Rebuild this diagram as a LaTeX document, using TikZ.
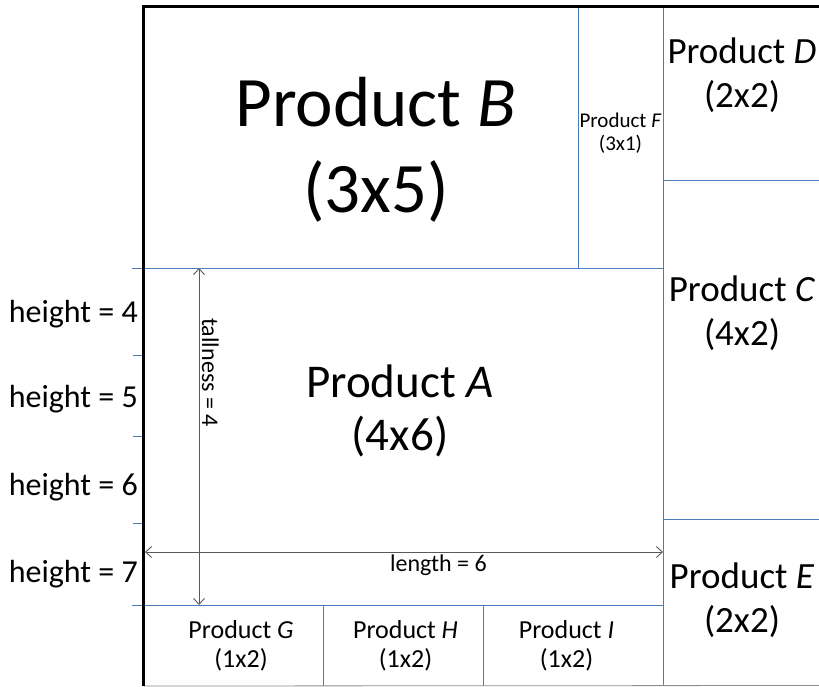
\documentclass[tikz,border=0pt]{standalone}
\usepackage{fontspec}
\setmainfont{Carlito}
\usetikzlibrary{arrows.meta}

\definecolor{cellblue}{HTML}{4A7EBB}

\begin{document}
\begin{tikzpicture}[
  x=1pt, y=-1pt,
  >={Straight Barb[length=6pt,width=11pt]},
  frame/.style={line width=3.2pt, draw=black},
  cell/.style={line width=1pt, draw=cellblue},
  tick/.style={line width=1pt, draw=cellblue},
  dim/.style={<->, line width=0.9pt, draw=black!65},
  huge/.style={font=\fontsize{71}{86}\selectfont, align=center},
  large/.style={font=\fontsize{47}{53}\selectfont, align=center},
  side/.style={font=\fontsize{37}{44}\selectfont, align=center},
  small/.style={font=\fontsize{26}{29}\selectfont, align=center},
  tiny/.style={font=\fontsize{21}{23}\selectfont, align=center},
  level/.style={font=\fontsize{32}{38}\selectfont, anchor=base east, inner sep=0pt},
  note/.style={font=\fontsize{24}{28}\selectfont, anchor=base}
]
\useasboundingbox (0,0) rectangle (819,686);

% Corners of the shelf and of the cells on it.
\coordinate (tl) at (143.5,6.5);
\coordinate (tr) at (819,6.5);
\coordinate (bl) at (143.5,686);
\coordinate (br) at (819,685.5);
\coordinate (ab) at (132,268);
\coordinate (abr) at (663,268);
\coordinate (ag) at (132,605);
\coordinate (agr) at (663,605);

% Cell borders.
\draw[cell] (ab) -- (abr);
\draw[cell] (ag) -- (agr);
\draw[cell] (578,6.5) -- (578,268);
\draw[cell] (663,6.5) -- (663,686);
\draw[cell] (663,180) -- (819,180);
\draw[cell] (663,519) -- (819,519);
\draw[cell] (323,605) -- (323,686);
\draw[cell] (483,605) -- (483,686);
\draw[line width=0.8pt, draw=black!45] (bl) -- (br);

% Shelf height ticks.
\foreach \y in {355,436,523}
  \draw[tick] (133,\y) -- (143.5,\y);

% Shelf walls.
\draw[frame] (bl) -- (tl) -- (tr);

% Products.
\node[huge] (prodB) at (376,150) {Product \textit{B}\\(3x5)};
\node[tiny] (prodF) at (620.5,133) {Product \textit{F}\\(3x1)};
\node[side] (prodD) at (742,75) {Product \textit{D}\\(2x2)};
\node[side] (prodC) at (742,313) {Product \textit{C}\\(4x2)};
\node[side] (prodE) at (742,600) {Product \textit{E}\\(2x2)};
\node[large] (prodA) at (400,411) {Product \textit{A}\\(4x6)};
\node[small] (prodG) at (241,646) {Product \textit{G}\\(1x2)};
\node[small] (prodH) at (405.5,646) {Product \textit{H}\\(1x2)};
\node[small] (prodI) at (566.5,646) {Product \textit{I}\\(1x2)};

% Height levels.
\node[level] (h4) at (138,322) {height = 4};
\node[level] (h5) at (138,407) {height = 5};
\node[level] (h6) at (138,495) {height = 6};
\node[level] (h7) at (138,582) {height = 7};

% Dimensions of product A.
\coordinate (tallT) at (199,268);
\coordinate (tallB) at (199,605);
\coordinate (lenL) at (145,552);
\coordinate (lenR) at (663,552);
\draw[dim] (tallT) -- (tallB);
\draw[dim] (lenL) -- (lenR);
\node[note, rotate=-90] (tall) at (202,372.5) {tallness = 4};
\node[note] (len) at (438.5,571) {length = 6};

\end{tikzpicture}
\end{document}
